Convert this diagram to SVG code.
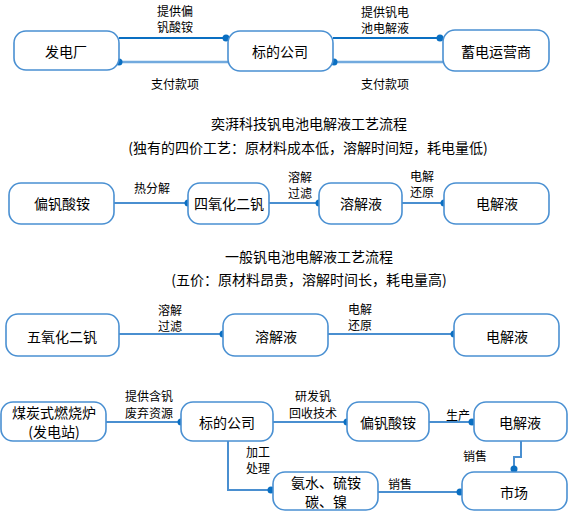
<svg xmlns="http://www.w3.org/2000/svg" width="570" height="512" viewBox="0 0 570 512">
<style>
.box{fill:#fff;stroke:#4a90d2;stroke-width:1.6}
.t{font-family:"Noto Sans CJK SC","Liberation Sans",sans-serif;font-size:14px;fill:#000;text-anchor:middle;dominant-baseline:central}
.l{font-family:"Noto Sans CJK SC","Liberation Sans",sans-serif;font-size:12px;fill:#000;text-anchor:middle;dominant-baseline:central}
.c{fill:none;stroke:#4a8fd0;stroke-width:2}
.cd{fill:none;stroke:#0a6fc2;stroke-width:2}
.cl{fill:none;stroke:#72aade;stroke-width:2.5}
.dot{fill:#0a6fc2}
</style>
<rect width="570" height="512" fill="#fff"/>
<g id="connectors">
<path class="cd" d="M119 38H228"/>
<path class="cl" d="M119 62H228"/>
<path class="cd" d="M333 38H443"/>
<path class="cl" d="M333 62H443"/>
<path class="c" d="M114 203H188M269 203H319M402 203H444"/>
<path class="c" d="M119 334H223M328 334H454"/>
<path class="c" d="M106 422H181M273 422H347M429 422H474"/>
<path class="c" d="M228 441V490H273"/>
<path class="c" d="M521 441V457H514V472"/>
<path class="c" d="M378 492H462"/>
<circle class="dot" cx="226" cy="38" r="3.5"/>
<circle class="dot" cx="119" cy="62" r="3.5"/>
<circle class="dot" cx="440" cy="38" r="3.5"/>
<circle class="dot" cx="334" cy="62" r="3.5"/>
<circle class="dot" cx="188" cy="203" r="3.5"/>
<circle class="dot" cx="319" cy="203" r="3.5"/>
<circle class="dot" cx="444" cy="203" r="3.5"/>
<circle class="dot" cx="223" cy="334" r="3.5"/>
<circle class="dot" cx="454" cy="334" r="3.5"/>
<circle class="dot" cx="181" cy="422" r="3.5"/>
<circle class="dot" cx="347" cy="422" r="3.5"/>
<circle class="dot" cx="472" cy="422" r="3.5"/>
<circle class="dot" cx="271" cy="490" r="3.5"/>
<circle class="dot" cx="514" cy="469" r="3.5"/>
<circle class="dot" cx="460" cy="492" r="3.5"/>
<text class="l" x="175" y="10">提供偏</text>
<text class="l" x="175" y="26">钒酸铵</text>
<text class="l" x="175" y="83">支付款项</text>
<text class="l" x="385" y="11">提供钒电</text>
<text class="l" x="385" y="27">池电解液</text>
<text class="l" x="385" y="83">支付款项</text>
<text class="l" x="152" y="187">热分解</text>
<text class="l" x="300" y="176">溶解</text>
<text class="l" x="300" y="192">过滤</text>
<text class="l" x="422" y="175">电解</text>
<text class="l" x="422" y="191">还原</text>
<text class="l" x="170" y="309">溶解</text>
<text class="l" x="170" y="325">过滤</text>
<text class="l" x="360" y="308">电解</text>
<text class="l" x="360" y="324">还原</text>
<text class="l" x="149" y="395">提供含钒</text>
<text class="l" x="149" y="412">废弃资源</text>
<text class="l" x="313" y="395">研发钒</text>
<text class="l" x="313" y="412">回收技术</text>
<text class="l" x="458" y="414">生产</text>
<text class="l" x="258" y="451">加工</text>
<text class="l" x="258" y="467">处理</text>
<text class="l" x="475" y="455">销售</text>
<text class="l" x="400" y="483">销售</text>
</g>
<text class="t" x="309" y="123">奕湃科技钒电池电解液工艺流程</text>
<text class="t" x="308" y="147">(独有的四价工艺：原材料成本低，溶解时间短，耗电量低)</text>
<text class="t" x="309" y="256">一般钒电池电解液工艺流程</text>
<text class="t" x="309" y="279">(五价：原材料昂贵，溶解时间长，耗电量高)</text>
<g id="n1"><rect class="box" x="14" y="31" width="105" height="39" rx="12"/><text class="t" x="66" y="51">发电厂</text></g>
<g id="n2"><rect class="box" x="228" y="31" width="105" height="40" rx="12"/><text class="t" x="280" y="51">标的公司</text></g>
<g id="n3"><rect class="box" x="443" y="30" width="106" height="41" rx="12"/><text class="t" x="496" y="51">蓄电运营商</text></g>
<g id="n4"><rect class="box" x="9" y="183" width="105" height="41" rx="12"/><text class="t" x="62" y="203">偏钒酸铵</text></g>
<g id="n5"><rect class="box" x="188" y="183" width="81" height="41" rx="12"/><text class="t" x="229" y="203">四氧化二钒</text></g>
<g id="n6"><rect class="box" x="319" y="183" width="83" height="41" rx="12"/><text class="t" x="361" y="203">溶解液</text></g>
<g id="n7"><rect class="box" x="444" y="183" width="105" height="41" rx="12"/><text class="t" x="497" y="203">电解液</text></g>
<g id="n8"><rect class="box" x="6" y="314" width="113" height="42" rx="12"/><text class="t" x="62" y="336">五氧化二钒</text></g>
<g id="n9"><rect class="box" x="223" y="314" width="105" height="42" rx="12"/><text class="t" x="276" y="336">溶解液</text></g>
<g id="n10"><rect class="box" x="454" y="314" width="105" height="42" rx="12"/><text class="t" x="507" y="336">电解液</text></g>
<g id="n11"><rect class="box" x="1" y="402" width="105" height="39" rx="12"/><text class="t" x="54" y="412">煤炭式燃烧炉</text><text class="t" x="54" y="431">(发电站)</text></g>
<g id="n12"><rect class="box" x="181" y="402" width="92" height="39" rx="12"/><text class="t" x="227" y="422">标的公司</text></g>
<g id="n13"><rect class="box" x="347" y="402" width="82" height="39" rx="12"/><text class="t" x="388" y="422">偏钒酸铵</text></g>
<g id="n14"><rect class="box" x="474" y="402" width="93" height="39" rx="12"/><text class="t" x="520" y="422">电解液</text></g>
<g id="n15"><rect class="box" x="273" y="472" width="105" height="38" rx="12"/><text class="t" x="326" y="482">氨水、硫铵</text><text class="t" x="326" y="501">碳、镍</text></g>
<g id="n16"><rect class="box" x="462" y="472" width="105" height="38" rx="12"/><text class="t" x="514" y="492">市场</text></g>
</svg>
